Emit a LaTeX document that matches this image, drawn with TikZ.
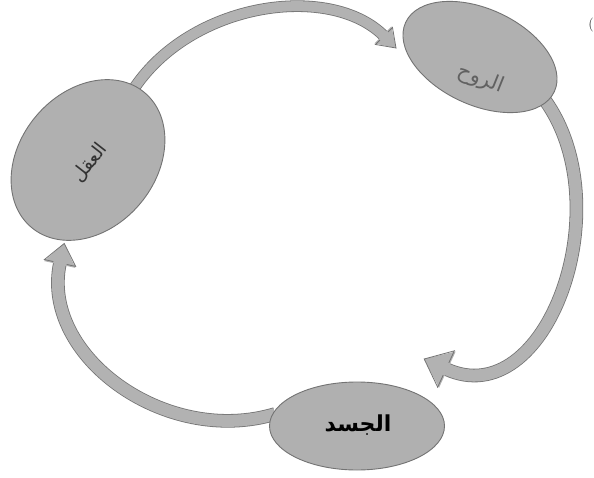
\documentclass[tikz,border=0pt]{standalone}
\usepackage{fontspec}
\usetikzlibrary{shapes.geometric,backgrounds}
\TeXXeTstate=1
\newfontfamily\arabicfont[Script=Arabic]{DejaVu Sans}
\definecolor{nodefill}{gray}{0.69}
\definecolor{arrowfill}{gray}{0.70}
\definecolor{edgecol}{gray}{0.45}
\tikzset{
  blob/.style={ellipse, fill=nodefill, draw=edgecol, line width=0.9pt, inner sep=0pt},
  cycleshaft/.style={draw=arrowfill, line width=#1pt, preaction={draw=edgecol, line width=#1pt+1.6pt}},
  headfill/.style={fill=arrowfill},
  headedge/.style={draw=edgecol, line width=0.8pt, line join=miter}
}
% #1 base coordinate, #2 direction angle, #3 shaft width, #4 head half width, #5 head length
\newcommand{\cyclehead}[5]{%
  \begin{scope}[shift={(#1)}, rotate=#2]
    \fill[headfill] (-1.5,-#4) -- (#5,0) -- (-1.5,#4) -- cycle;
    \draw[headedge] (0,#3/2+0.8) -- (0,#4) -- (#5,0) -- (0,-#4) -- (0,-#3/2-0.8);
  \end{scope}}
\begin{document}
\begin{tikzpicture}[x=1pt,y=1pt]
\useasboundingbox (0,0) rectangle (594,477);
% nodes
\node[blob, minimum width=176pt, minimum height=136pt, rotate=50] (mind) at (88,317) {};
\node[blob, minimum width=164pt, minimum height=96pt, rotate=-25] (spirit) at (480,420) {};
\node[blob, minimum width=175pt, minimum height=88pt] (body) at (357,51) {};
% labels
\node[font=\arabicfont\fontsize{19}{22}\selectfont, rotate=52, text=black!80] (mindlabel) at (90,314) {\beginR العقل\endR};
\node[font=\arabicfont\fontsize{21}{24}\selectfont, rotate=-22, text=black!62] (spiritlabel) at (481,398) {\beginR الروح\endR};
\node[font=\arabicfont\bfseries\fontsize{22}{26}\selectfont, text=black] (bodylabel) at (358,52) {\beginR الجسد\endR};
\node[font=\fontsize{14}{16}\selectfont, text=black!85] (stray) at (591,452) {(};
% arrow base points
\coordinate (h1) at (384,441);
\coordinate (h2) at (446,108);
\coordinate (h3) at (60,214);
\begin{scope}[on background layer]
\draw[cycleshaft=10] ([shift={(-12,2)}]mind.east) .. controls (190,475) and (330,495) .. (h1);
\draw[cycleshaft=12] ([shift={(-10,-8)}]spirit.east) .. controls (622,270) and (546,62) .. (h2);
\draw[cycleshaft=12] ([shift={(6,12)}]body.west) .. controls (165,30) and (40,122) .. (h3);
\cyclehead{h1}{-45}{10}{12}{17}
\cyclehead{h2}{155.3}{12}{20}{24}
\cyclehead{h3}{77.7}{12}{16}{20}
\end{scope}
\end{tikzpicture}
\end{document}
